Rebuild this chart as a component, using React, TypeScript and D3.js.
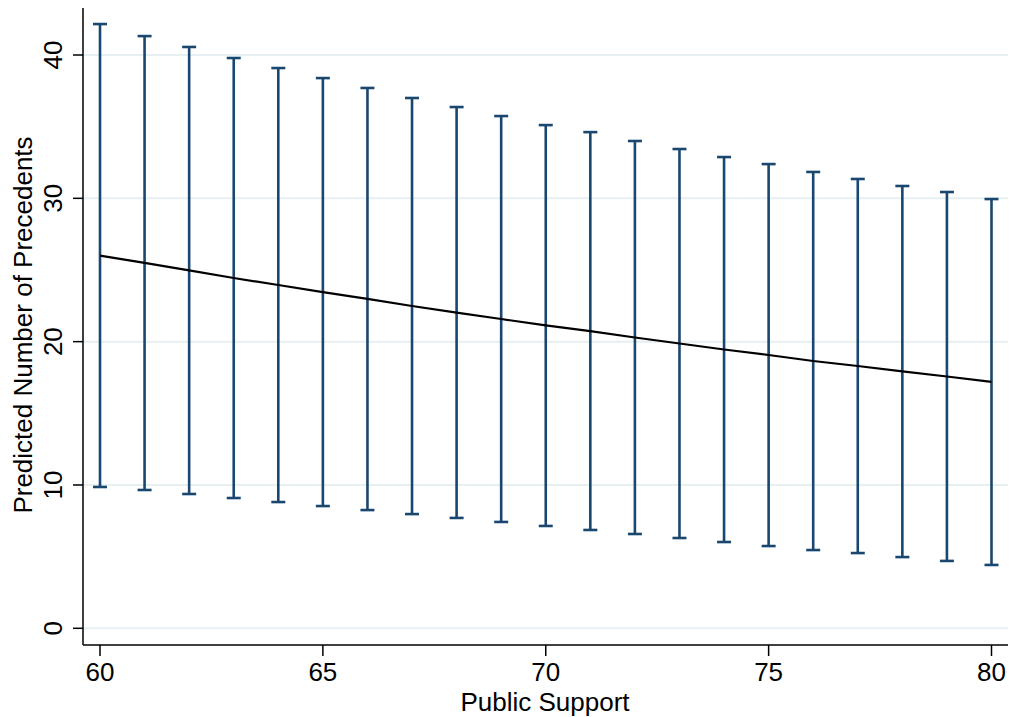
import * as d3 from "d3";
import { useEffect, useRef } from "react";

// public support values on the x axis
const support = [60, 61, 62, 63, 64, 65, 66, 67, 68, 69, 70, 71, 72, 73, 74, 75, 76, 77, 78, 79, 80];
// predicted number of precedents (point estimate)
const predicted = [26.0, 25.5, 24.97, 24.44, 23.95, 23.46, 22.98, 22.49, 22.03, 21.58, 21.13, 20.74, 20.29, 19.87, 19.45, 19.07, 18.65, 18.3, 17.92, 17.57, 17.19];
// confidence interval bounds
const upper = [42.16, 41.32, 40.56, 39.79, 39.09, 38.39, 37.7, 37.0, 36.37, 35.74, 35.11, 34.62, 34.0, 33.44, 32.88, 32.39, 31.84, 31.35, 30.86, 30.44, 29.95];
const lower = [9.86, 9.65, 9.37, 9.09, 8.81, 8.53, 8.25, 7.97, 7.7, 7.42, 7.14, 6.86, 6.58, 6.3, 6.02, 5.74, 5.46, 5.25, 4.97, 4.7, 4.42];

const xTicks = [60, 65, 70, 75, 80];
const yTicks = [0, 10, 20, 30, 40];

const width = 1009;
const height = 717;
const left = 83;
const right = 1008;
const top = 8;
const bottom = 645;
const font = "'Liberation Sans', Arial, Helvetica, sans-serif";
const fontSize = 26;
const navy = "#1a476f";

export default function App() {
  const svgRef = useRef<SVGSVGElement>(null);

  useEffect(() => {
    const svg = d3.select(svgRef.current);
    svg.selectAll("*").remove();

    const x = d3.scaleLinear().domain([60, 80]).range([100, 991.5]);
    const y = d3.scaleLinear().domain([0, 40]).range([628.3, 55]);

    // gridlines
    svg
      .append("g")
      .selectAll("line")
      .data(yTicks)
      .join("line")
      .attr("x1", left)
      .attr("x2", right)
      .attr("y1", (d) => y(d))
      .attr("y2", (d) => y(d))
      .attr("stroke", "#e6eff1")
      .attr("stroke-width", 2);

    const data = support.map((s, i) => ({ s, p: predicted[i], hi: upper[i], lo: lower[i] }));

    // error bars
    const bars = svg.append("g").attr("stroke", navy).attr("stroke-width", 2.6).attr("fill", "none");
    bars
      .selectAll(".v")
      .data(data)
      .join("line")
      .attr("x1", (d) => x(d.s))
      .attr("x2", (d) => x(d.s))
      .attr("y1", (d) => y(d.hi))
      .attr("y2", (d) => y(d.lo));
    bars
      .selectAll(".capHi")
      .data(data)
      .join("line")
      .attr("x1", (d) => x(d.s) - 7)
      .attr("x2", (d) => x(d.s) + 7)
      .attr("y1", (d) => y(d.hi))
      .attr("y2", (d) => y(d.hi));
    bars
      .selectAll(".capLo")
      .data(data)
      .join("line")
      .attr("x1", (d) => x(d.s) - 7)
      .attr("x2", (d) => x(d.s) + 7)
      .attr("y1", (d) => y(d.lo))
      .attr("y2", (d) => y(d.lo));

    // prediction line
    const line = d3
      .line<{ s: number; p: number }>()
      .x((d) => x(d.s))
      .y((d) => y(d.p));
    svg
      .append("path")
      .datum(data)
      .attr("d", line)
      .attr("fill", "none")
      .attr("stroke", "black")
      .attr("stroke-width", 2.2);

    // x axis
    const xAxis = svg.append("g");
    xAxis
      .append("line")
      .attr("x1", left)
      .attr("x2", right)
      .attr("y1", bottom)
      .attr("y2", bottom)
      .attr("stroke", "black")
      .attr("stroke-width", 1.5);
    xAxis
      .selectAll(".tick")
      .data(xTicks)
      .join("line")
      .attr("x1", (d) => x(d))
      .attr("x2", (d) => x(d))
      .attr("y1", bottom)
      .attr("y2", bottom + 11)
      .attr("stroke", "black")
      .attr("stroke-width", 1.5);
    xAxis
      .selectAll("text")
      .data(xTicks)
      .join("text")
      .attr("x", (d) => x(d))
      .attr("y", 681)
      .attr("text-anchor", "middle")
      .attr("font-family", font)
      .attr("font-size", fontSize)
      .text((d) => d);
    svg
      .append("text")
      .attr("x", 545)
      .attr("y", 711)
      .attr("text-anchor", "middle")
      .attr("font-family", font)
      .attr("font-size", fontSize)
      .text("Public Support");

    // y axis
    const yAxis = svg.append("g");
    yAxis
      .append("line")
      .attr("x1", left)
      .attr("x2", left)
      .attr("y1", top)
      .attr("y2", bottom)
      .attr("stroke", "black")
      .attr("stroke-width", 1.5);
    yAxis
      .selectAll(".tick")
      .data(yTicks)
      .join("line")
      .attr("x1", left - 10)
      .attr("x2", left)
      .attr("y1", (d) => y(d))
      .attr("y2", (d) => y(d))
      .attr("stroke", "black")
      .attr("stroke-width", 1.5);
    yAxis
      .selectAll("text")
      .data(yTicks)
      .join("text")
      .attr("transform", (d) => `translate(62,${y(d)}) rotate(-90)`)
      .attr("text-anchor", "middle")
      .attr("font-family", font)
      .attr("font-size", fontSize)
      .text((d) => d);
    svg
      .append("text")
      .attr("transform", `translate(32,${325}) rotate(-90)`)
      .attr("text-anchor", "middle")
      .attr("font-family", font)
      .attr("font-size", fontSize)
      .text("Predicted Number of Precedents");
  }, []);

  return (
    <svg
      ref={svgRef}
      width={width}
      height={height}
      style={{ position: "absolute", left: 0, top: 0, background: "white" }}
    />
  );
}
